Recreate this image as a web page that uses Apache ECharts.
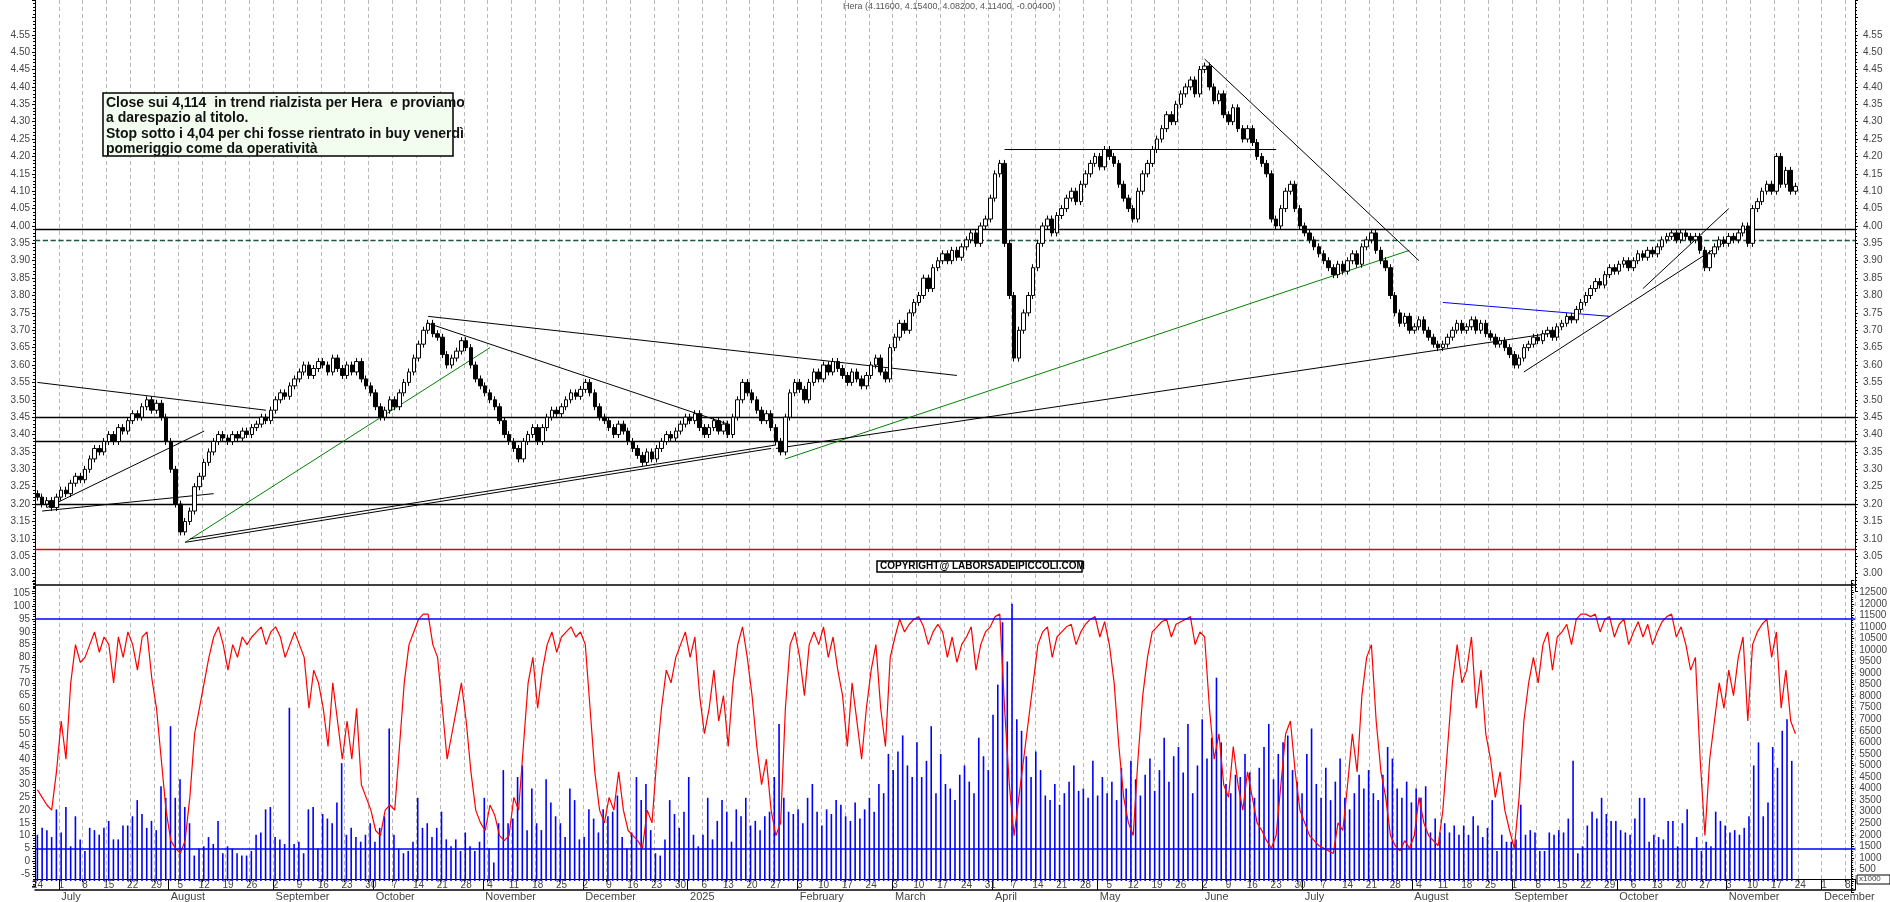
<!DOCTYPE html>
<html><head><meta charset="utf-8">
<script src="https://cdn.jsdelivr.net/npm/echarts@6/dist/echarts.min.js"></script>
<style>html,body{margin:0;padding:0;background:#fff}#c{width:1890px;height:902px}</style>
</head><body><div id="c"></div>
<script>
// Daily closes, one row per trading week (Mon..Fri), starting 2024-06-24
const closes = [
3.22,3.20,3.21,3.19,3.22, 3.24,3.23,3.26,3.28,3.27, 3.30,3.33,3.36,3.35,3.38, 3.40,3.38,3.42,3.41,3.44,
3.46,3.45,3.48,3.50,3.47, 3.49,3.45,3.38,3.30,3.20, 3.12,3.15,3.18,3.25,3.28, 3.32,3.35,3.38,3.40,3.39,
3.38,3.40,3.39,3.41,3.40, 3.42,3.43,3.45,3.44,3.47, 3.50,3.52,3.51,3.54,3.56, 3.58,3.60,3.57,3.59,3.61,
3.60,3.58,3.62,3.59,3.57, 3.60,3.58,3.61,3.56,3.54, 3.52,3.48,3.45,3.47,3.50, 3.48,3.52,3.55,3.58,3.62,
3.66,3.70,3.72,3.69,3.68, 3.63,3.60,3.62,3.64,3.67, 3.65,3.60,3.56,3.54,3.52, 3.50,3.48,3.44,3.40,3.38,
3.36,3.33,3.38,3.40,3.42, 3.38,3.42,3.45,3.47,3.46, 3.48,3.50,3.52,3.51,3.53, 3.55,3.52,3.48,3.45,3.44,
3.42,3.40,3.43,3.41,3.38, 3.36,3.34,3.32,3.35,3.33, 3.36,3.38,3.40,3.39,3.41, 3.43,3.45,3.44,3.46,3.42,
3.40,3.42,3.44,3.41,3.43, 3.40,3.45,3.50,3.55,3.52, 3.50,3.47,3.44,3.46,3.42, 3.38,3.35,3.45,3.52,3.55,
3.53,3.50,3.55,3.58,3.56, 3.60,3.58,3.61,3.59,3.57, 3.55,3.58,3.56,3.54,3.57, 3.60,3.62,3.58,3.56,3.65,
3.68,3.72,3.70,3.75,3.78, 3.80,3.85,3.82,3.88,3.90, 3.92,3.90,3.93,3.91,3.94, 3.96,3.98,3.95,4.00,4.02,
4.08,4.15,4.18,3.95,3.80, 3.62,3.70,3.75,3.80,3.88, 3.95,4.00,4.02,3.98,4.03, 4.05,4.08,4.10,4.07,4.12,
4.15,4.18,4.20,4.17,4.22, 4.20,4.18,4.12,4.08,4.05, 4.02,4.10,4.15,4.18,4.22, 4.25,4.28,4.32,4.30,4.35,
4.38,4.40,4.42,4.38,4.45, 4.46,4.40,4.36,4.38,4.32, 4.30,4.34,4.28,4.25,4.28, 4.24,4.20,4.18,4.15,4.02,
4.00,4.05,4.10,4.12,4.05, 4.00,3.98,3.96,3.94,3.92, 3.90,3.88,3.86,3.89,3.87, 3.90,3.92,3.89,3.94,3.96,
3.98,3.93,3.90,3.88,3.80, 3.75,3.72,3.74,3.70,3.71, 3.73,3.70,3.68,3.66,3.65, 3.66,3.68,3.70,3.72,3.70,
3.71,3.73,3.70,3.72,3.69, 3.68,3.66,3.67,3.65,3.63, 3.60,3.62,3.65,3.66,3.68, 3.67,3.69,3.70,3.68,3.71,
3.72,3.74,3.73,3.76,3.78, 3.80,3.82,3.84,3.83,3.86, 3.88,3.87,3.89,3.90,3.88, 3.90,3.92,3.91,3.93,3.92,
3.94,3.96,3.97,3.98,3.96, 3.98,3.97,3.96,3.97,3.93, 3.88,3.92,3.94,3.96,3.95, 3.97,3.96,3.98,4.00,3.95,
4.05,4.07,4.10,4.12,4.10, 4.20,4.12,4.16,4.10,4.114
];
const oscillator = [
28,25,22,20,35, 55,40,70,85,78, 80,85,90,82,88, 85,70,88,80,90, 85,75,88,90,72, 60,40,20,8,5,
3,8,25,50,60, 70,80,88,92,85, 75,85,80,88,85, 88,90,92,85,90, 92,88,80,85,90, 85,80,60,75,70,
60,45,70,55,40, 55,40,60,30,25, 20,12,10,20,22, 20,45,70,85,90, 95,97,97,85,80, 60,40,50,60,70,
55,35,20,15,12, 22,18,10,8,10, 25,20,45,70,80, 60,75,85,90,82, 88,90,92,88,90, 85,60,35,20,15,
25,20,35,20,12, 10,8,5,20,15, 40,60,75,70,80, 85,90,80,88,65, 50,60,75,55,65, 45,70,85,92,80,
65,45,30,40,20, 10,15,60,85,90, 80,65,85,90,85, 92,80,88,75,65, 45,70,55,40,60, 75,85,60,45,80,
88,95,90,93,95, 96,92,85,90,93, 90,80,88,78,85, 88,92,75,85,90, 92,96,97,60,30, 10,25,40,55,70,
85,90,92,80,88, 90,92,93,85,90, 93,95,96,88,94, 85,70,45,25,15, 10,40,65,80,90, 92,94,95,88,93,
94,95,96,85,90, 88,60,40,50,30, 25,45,30,20,35, 25,15,12,8,5, 10,30,50,55,35, 20,15,10,8,6,
5,4,3,15,12, 30,50,35,65,80, 85,55,35,25,10, 6,4,8,5,10, 25,15,10,8,6, 20,45,70,85,70,
75,88,60,75,50, 40,25,35,20,12, 5,25,55,70,80, 70,85,90,75,88, 90,93,85,95,97, 97,96,97,90,95,
96,88,93,95,85, 90,94,88,93,85, 90,94,96,97,88, 92,85,75,80,40, 10,40,55,70,60, 75,65,80,88,55,
85,90,93,95,80, 90,60,75,55,50
];
const volume = [
2000,2300,2200,1900,3100, 2100,3200,1500,2800,1800, 1300,2300,2200,2000,2300, 2600,1800,1800,2400,2400,
2800,3500,2900,2300,2600, 2200,4100,3600,6700,3600, 4400,3200,2500,1100,1400, 1500,1900,1600,2600,1200,
1500,1400,1200,1100,1100, 1300,2000,2100,3100,3200, 1900,1800,1600,7500,1600, 1700,1200,3100,3200,1400,
2900,2700,2500,3400,5100, 2000,2300,1900,1700,2000, 2500,1700,2300,2800,6600, 2000,1400,1200,1300,1700,
3600,2300,2500,1900,2300, 3000,1800,1500,1800,1300, 2100,1500,1300,1700,3600, 1400,800,2500,4800,2500,
2700,4500,5000,2200,4000, 2500,2200,4400,3400,2800, 2500,1900,4000,3500,1800, 1900,3100,2700,2100,3100,
2800,3000,3700,1900,1400, 2100,4500,3500,4200,2200, 1200,1100,1800,3500,2900, 2300,3000,4500,2000,1500,
2000,3600,1800,2600,3500, 3000,1700,3100,2800,3600, 2400,2600,2200,2800,3000, 4500,6800,3600,3000,2900,
3100,2500,3600,4200,3000, 2400,3100,2900,3500,3300, 2800,2600,3400,2700,3100, 3600,3000,4200,3800,5500,
4800,5600,6300,5000,4500, 6000,4500,5200,6700,3800, 5500,4200,4000,3500,4600, 5000,4300,3800,6200,5400,
4800,7200,8500,11200,9500, 12000,7000,6500,5400,4500, 5600,4800,3700,3500,4200, 3300,3800,4300,5000,3900,
4000,3600,5200,3700,4500, 3800,4300,3500,4900,4000, 5200,4400,3700,4600,5300, 3900,4800,6200,4300,5400,
5800,4700,6800,3800,5000, 7000,5300,6200,8800,6000, 4200,3800,4600,4500,5500, 4700,3600,4900,5800,6800,
4400,5500,6000,6300,4800, 4300,3800,5500,6600,4200, 3600,4900,3500,4300,5300, 3600,3100,3800,4600,4000,
4800,3800,3500,4600,5800, 5300,4000,3600,4300,3400, 4000,3600,4100,2100,2700, 2100,2500,2100,2400,2000,
2400,2000,2800,2400,1900, 2300,3500,1300,2000,1700, 1700,1800,3300,2000,2200, 2100,1300,1300,2100,2000,
2200,2100,2700,5200,1200, 1500,2400,3000,2700,3600, 2900,2600,2600,2200,2100, 2000,2700,3600,3600,1700,
2000,1900,1800,2600,2600, 1500,2500,3100,1400,1900, 1300,1700,1500,3000,2600, 2400,2100,2200,2000,2300,
2800,5000,6000,2800,3400, 5800,4900,6500,7000,5200
];
const firstOpen = 3.23;
const priceLevels = [{v:3.99,c:'#000',t:'solid'},{v:3.96,c:'#1d5548',t:'dashed'},{v:3.45,c:'#000',t:'solid'},{v:3.375,c:'#000',t:'solid'},{v:3.20,c:'#000',t:'solid'},{v:3.067,c:'#e00000',t:'solid'}];
const trendLines = [
 {a:['2024-06-24',3.55],b:['2024-08-29',3.47],c:'#000'},
 {a:['2024-06-25',3.18],b:['2024-08-14',3.23],c:'#000'},
 {a:['2024-06-26',3.19],b:['2024-08-12',3.41],c:'#000'},
 {a:['2024-08-06',3.09],b:['2024-11-04',3.65],c:'#008000'},
 {a:['2024-08-06',3.09],b:['2025-01-24',3.36],c:'#000'},
 {a:['2024-08-07',3.10],b:['2025-01-27',3.37],c:'#000'},
 {a:['2024-10-16',3.74],b:['2025-03-20',3.57],c:'#000'},
 {a:['2024-10-16',3.72],b:['2025-01-13',3.43],c:'#000'},
 {a:['2025-01-29',3.33],b:['2025-07-31',3.93],c:'#008000'},
 {a:['2025-01-27',3.36],b:['2025-09-10',3.69],c:'#000'},
 {a:['2025-04-03',4.22],b:['2025-06-23',4.22],c:'#000'},
 {a:['2025-06-02',4.48],b:['2025-08-04',3.90],c:'#000'},
 {a:['2025-08-11',3.78],b:['2025-09-29',3.74],c:'#0000ff'},
 {a:['2025-09-03',3.58],b:['2025-11-04',3.97],c:'#000'},
 {a:['2025-10-08',3.82],b:['2025-11-03',4.05],c:'#000'}
];
const monthNames = ['January','February','March','April','May','June','July','August','September','October','November','December'];

const dates = [];
for (let t = Date.UTC(2024,5,24); t <= Date.UTC(2025,11,9); t += 86400000) {
  const d = new Date(t); const wd = d.getUTCDay();
  if (wd >= 1 && wd <= 5) dates.push(d.toISOString().slice(0,10));
}
const candles = closes.map((c,i) => {
  const o = i === 0 ? firstOpen : closes[i-1];
  return [o, c, Math.min(o,c) - 0.01, Math.max(o,c) + 0.01];
});
const isMonday = v => new Date(v+'T00:00:00Z').getUTCDay() === 1;
const isMonthStart = (i) => i === 0 ? false : dates[i].slice(5,7) !== dates[i-1].slice(5,7);

const L = 35, R = 35;
const dashed = {show:true, interval:(i,v)=>isMonday(v), lineStyle:{color:'#b8b8b8', type:[4,3], width:1}};
const hidX = (g, split) => ({type:'category', gridIndex:g, data:dates, boundaryGap:true, position:'bottom',
  axisLine:{show:false}, axisTick:{show:false}, axisLabel:{show:false}, splitLine: split ? dashed : {show:false}});
const axisFont = {fontFamily:'Liberation Sans', fontSize:10, color:'#444'};

const chart = echarts.init(document.getElementById('c'));
chart.setOption({
  animation:false,
  grid:[
    {left:L, right:R, top:-16, height:607},
    {left:L, right:R, top:581, height:305.5},
    {left:L, right:R, top:580.7, height:311.8},
    {left:L, right:R, top:0, height:881}
  ],
  xAxis:[
    hidX(0,true), hidX(1,true), hidX(2,false),
    {type:'category', gridIndex:3, data:dates, boundaryGap:true, position:'bottom',
      axisLine:{show:true, lineStyle:{color:'#000'}},
      axisTick:{show:true, interval:(i,v)=>isMonday(v), length:3, lineStyle:{color:'#000'}},
      axisLabel:Object.assign({interval:(i,v)=>isMonday(v), margin:1, formatter:v=>String(+v.slice(8,10))}, axisFont)},
    {type:'category', gridIndex:3, data:dates, boundaryGap:true, position:'bottom', offset:11,
      axisLine:{show:true, lineStyle:{color:'#000', width:1.5}},
      axisTick:{show:true, interval:(i)=>isMonthStart(i), length:11, inside:true, lineStyle:{color:'#000'}},
      axisLabel:Object.assign({interval:(i)=>isMonthStart(i), margin:1, align:'left',
        formatter:v=>{const m=+v.slice(5,7); return m===1 ? v.slice(0,4) : monthNames[m-1];}}, axisFont, {fontSize:11})}
  ],
  yAxis:[
    {type:'value', gridIndex:0, position:'left', min:2.95, max:4.65, interval:0.05, splitLine:{show:false},
      axisLine:{show:true, lineStyle:{color:'#000'}}, axisTick:{show:true, length:3, lineStyle:{color:'#000'}},
      minorTick:{show:true, splitNumber:5, length:2, lineStyle:{color:'#000'}},
      axisLabel:Object.assign({margin:5, formatter:v=>(v>4.56||v<2.99)?'':v.toFixed(2)}, axisFont)},
    {type:'value', gridIndex:0, position:'right', min:2.95, max:4.65, interval:0.05, splitLine:{show:false},
      axisLine:{show:true, lineStyle:{color:'#000'}}, axisTick:{show:true, length:3, lineStyle:{color:'#000'}},
      minorTick:{show:true, splitNumber:5, length:2, lineStyle:{color:'#000'}},
      axisLabel:Object.assign({margin:8, formatter:v=>(v>4.56||v<2.99)?'':v.toFixed(2)}, axisFont)},
    {type:'value', gridIndex:1, position:'left', min:-10, max:110, interval:5, splitLine:{show:false},
      axisLine:{show:true, lineStyle:{color:'#000'}}, axisTick:{show:true, length:3, lineStyle:{color:'#000'}},
      minorTick:{show:true, splitNumber:5, length:2, lineStyle:{color:'#000'}},
      axisLabel:Object.assign({margin:5, formatter:v=>(v>105||v<-5)?'':String(v)}, axisFont)},
    {type:'value', gridIndex:2, position:'right', min:-500, max:13000, interval:500, splitLine:{show:false},
      axisLine:{show:true, lineStyle:{color:'#000'}}, axisTick:{show:true, length:3, lineStyle:{color:'#000'}},
      minorTick:{show:true, splitNumber:5, length:2, lineStyle:{color:'#000'}},
      axisLabel:Object.assign({margin:8, formatter:v=>(v>12500||v<500)?'':String(v)}, axisFont)},
    {type:'value', gridIndex:3, show:false}
  ],
  series:[
    {type:'candlestick', xAxisIndex:0, yAxisIndex:0, data:candles, barWidth:4, z:5,
      itemStyle:{color:'#fff', color0:'#000', borderColor:'#000', borderColor0:'#000', borderWidth:1},
      markLine:{silent:true, symbol:'none', animation:false, label:{show:false},
        data: priceLevels.map(p=>({yAxis:p.v, lineStyle:{color:p.c, type:p.t, width:1.3}}))
          .concat(trendLines.map(t=>[{coord:t.a, lineStyle:{color:t.c, width:1, type:'solid'}},{coord:t.b}]))}},
    {type:'bar', xAxisIndex:2, yAxisIndex:3, data:volume, barWidth:1.6, itemStyle:{color:'#0000ff'}, z:2},
    {type:'line', xAxisIndex:1, yAxisIndex:2, data:oscillator, showSymbol:false, z:4,
      lineStyle:{color:'#ff0000', width:1.2},
      markLine:{silent:true, symbol:'none', label:{show:false},
        data:[{yAxis:95},{yAxis:5}], lineStyle:{color:'#0000ff', type:'solid', width:1.5}}}
  ],
  graphic:[
    {type:'line', shape:{x1:L, y1:585, x2:1890-R, y2:585}, style:{stroke:'#000', lineWidth:1.5}, z:50},
    {type:'text', left:843, top:2, style:{text:'Hera (4.11600, 4.15400, 4.08200, 4.11400, -0.00400)', font:'9px Liberation Sans', fill:'#555'}, z:50},
    {type:'rect', shape:{x:103, y:93, width:350, height:63}, style:{fill:'#f2fdf0', stroke:'#000', lineWidth:1.5}, z:50},
    {type:'text', left:106, top:95, z:51, style:{text:'Close sui 4,114  in trend rialzista per Hera  e proviamo\na darespazio al titolo.\nStop sotto i 4,04 per chi fosse rientrato in buy venerdì\npomeriggio come da operatività',
      font:'bold 14px "Liberation Sans Narrow", "Liberation Sans"', fill:'#111', lineHeight:15.5}},
    {type:'rect', shape:{x:877, y:561, width:205, height:11}, style:{fill:'#fff', stroke:'#000', lineWidth:1.5}, z:50},
    {type:'text', left:880, top:561, z:51, style:{text:'COPYRIGHT@ LABORSADEIPICCOLI.COM', font:'bold 10px "Liberation Sans"', fill:'#000'}},
    {type:'rect', shape:{x:1857, y:875, width:33, height:9}, style:{fill:'#fff', stroke:'#000', lineWidth:1}, z:50},
    {type:'text', left:1859, top:875, z:51, style:{text:'x1000', font:'8px Liberation Sans', fill:'#444'}}
  ]
});
</script></body></html>
